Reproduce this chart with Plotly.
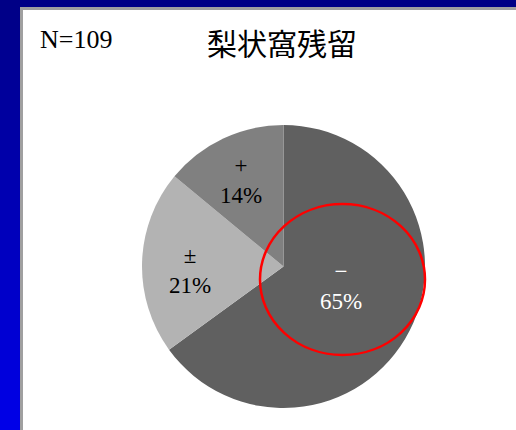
import plotly.graph_objects as go

labels = ["−", "±", "+"]
values = [65, 21, 14]
colors = ["#606060", "#b3b3b3", "#808080"]
text_colors = ["white", "black", "black"]
title_text = "梨状窩残留"
n_text = "N=109"

W, H = 516, 430

def px(x):
    return x / W

def py(y):
    return 1 - y / H

fig = go.Figure()
fig.add_trace(go.Pie(
    labels=labels, values=values, sort=False, direction="clockwise", rotation=0,
    marker=dict(colors=colors, line=dict(width=0)),
    textinfo="none", hoverinfo="label+percent", showlegend=False,
    domain=dict(x=[px(142), px(425)], y=[py(408.5), py(124.5)]),
))

shapes = []
# blue gradient background
nb = 43
for i in range(nb):
    t = i / (nb - 1)
    r, g, b = 0, 0, int(0x86 + (0xe8 - 0x86) * t)
    shapes.append(dict(type="rect", xref="paper", yref="paper", layer="below",
                       x0=0, x1=1, y0=1 - (i + 1) / nb - 0.002, y1=1 - i / nb,
                       fillcolor=f"rgb({r},{g},{b})", line=dict(width=0)))
# white panel
shapes.append(dict(type="rect", xref="paper", yref="paper", layer="below",
                   x0=px(21.5), x1=px(530), y0=py(445), y1=py(8.5),
                   fillcolor="white", line=dict(color="#a0a0a0", width=3)))
# red ellipse
shapes.append(dict(type="circle", xref="paper", yref="paper", layer="above",
                   x0=px(260), x1=px(425), y0=py(355), y1=py(204),
                   line=dict(color="#ff0000", width=2.5)))

label_pos = [(341, 286), (190, 270), (241, 180)]
annotations = []
for (lx, ly), lab, val, tc in zip(label_pos, labels, values, text_colors):
    annotations.append(dict(x=px(lx), y=py(ly), xref="paper", yref="paper",
                            xanchor="center", yanchor="middle",
                            text=f"{lab}<br>{val}%", showarrow=False,
                            font=dict(family="Liberation Serif", size=23, color=tc)))
annotations.append(dict(x=px(282), y=py(42), xref="paper", yref="paper",
                        xanchor="center", yanchor="middle",
                        text=title_text, showarrow=False,
                        font=dict(family="Noto Sans CJK JP", size=30, color="black")))
annotations.append(dict(x=px(76), y=py(39), xref="paper", yref="paper",
                        xanchor="center", yanchor="middle",
                        text=n_text, showarrow=False,
                        font=dict(family="Liberation Serif", size=26, color="black")))

fig.update_layout(
    width=W, height=H, margin=dict(l=0, r=0, t=0, b=0),
    paper_bgcolor="#0000c0", plot_bgcolor="white",
    shapes=shapes, annotations=annotations,
)
fig.write_html("out.html")
